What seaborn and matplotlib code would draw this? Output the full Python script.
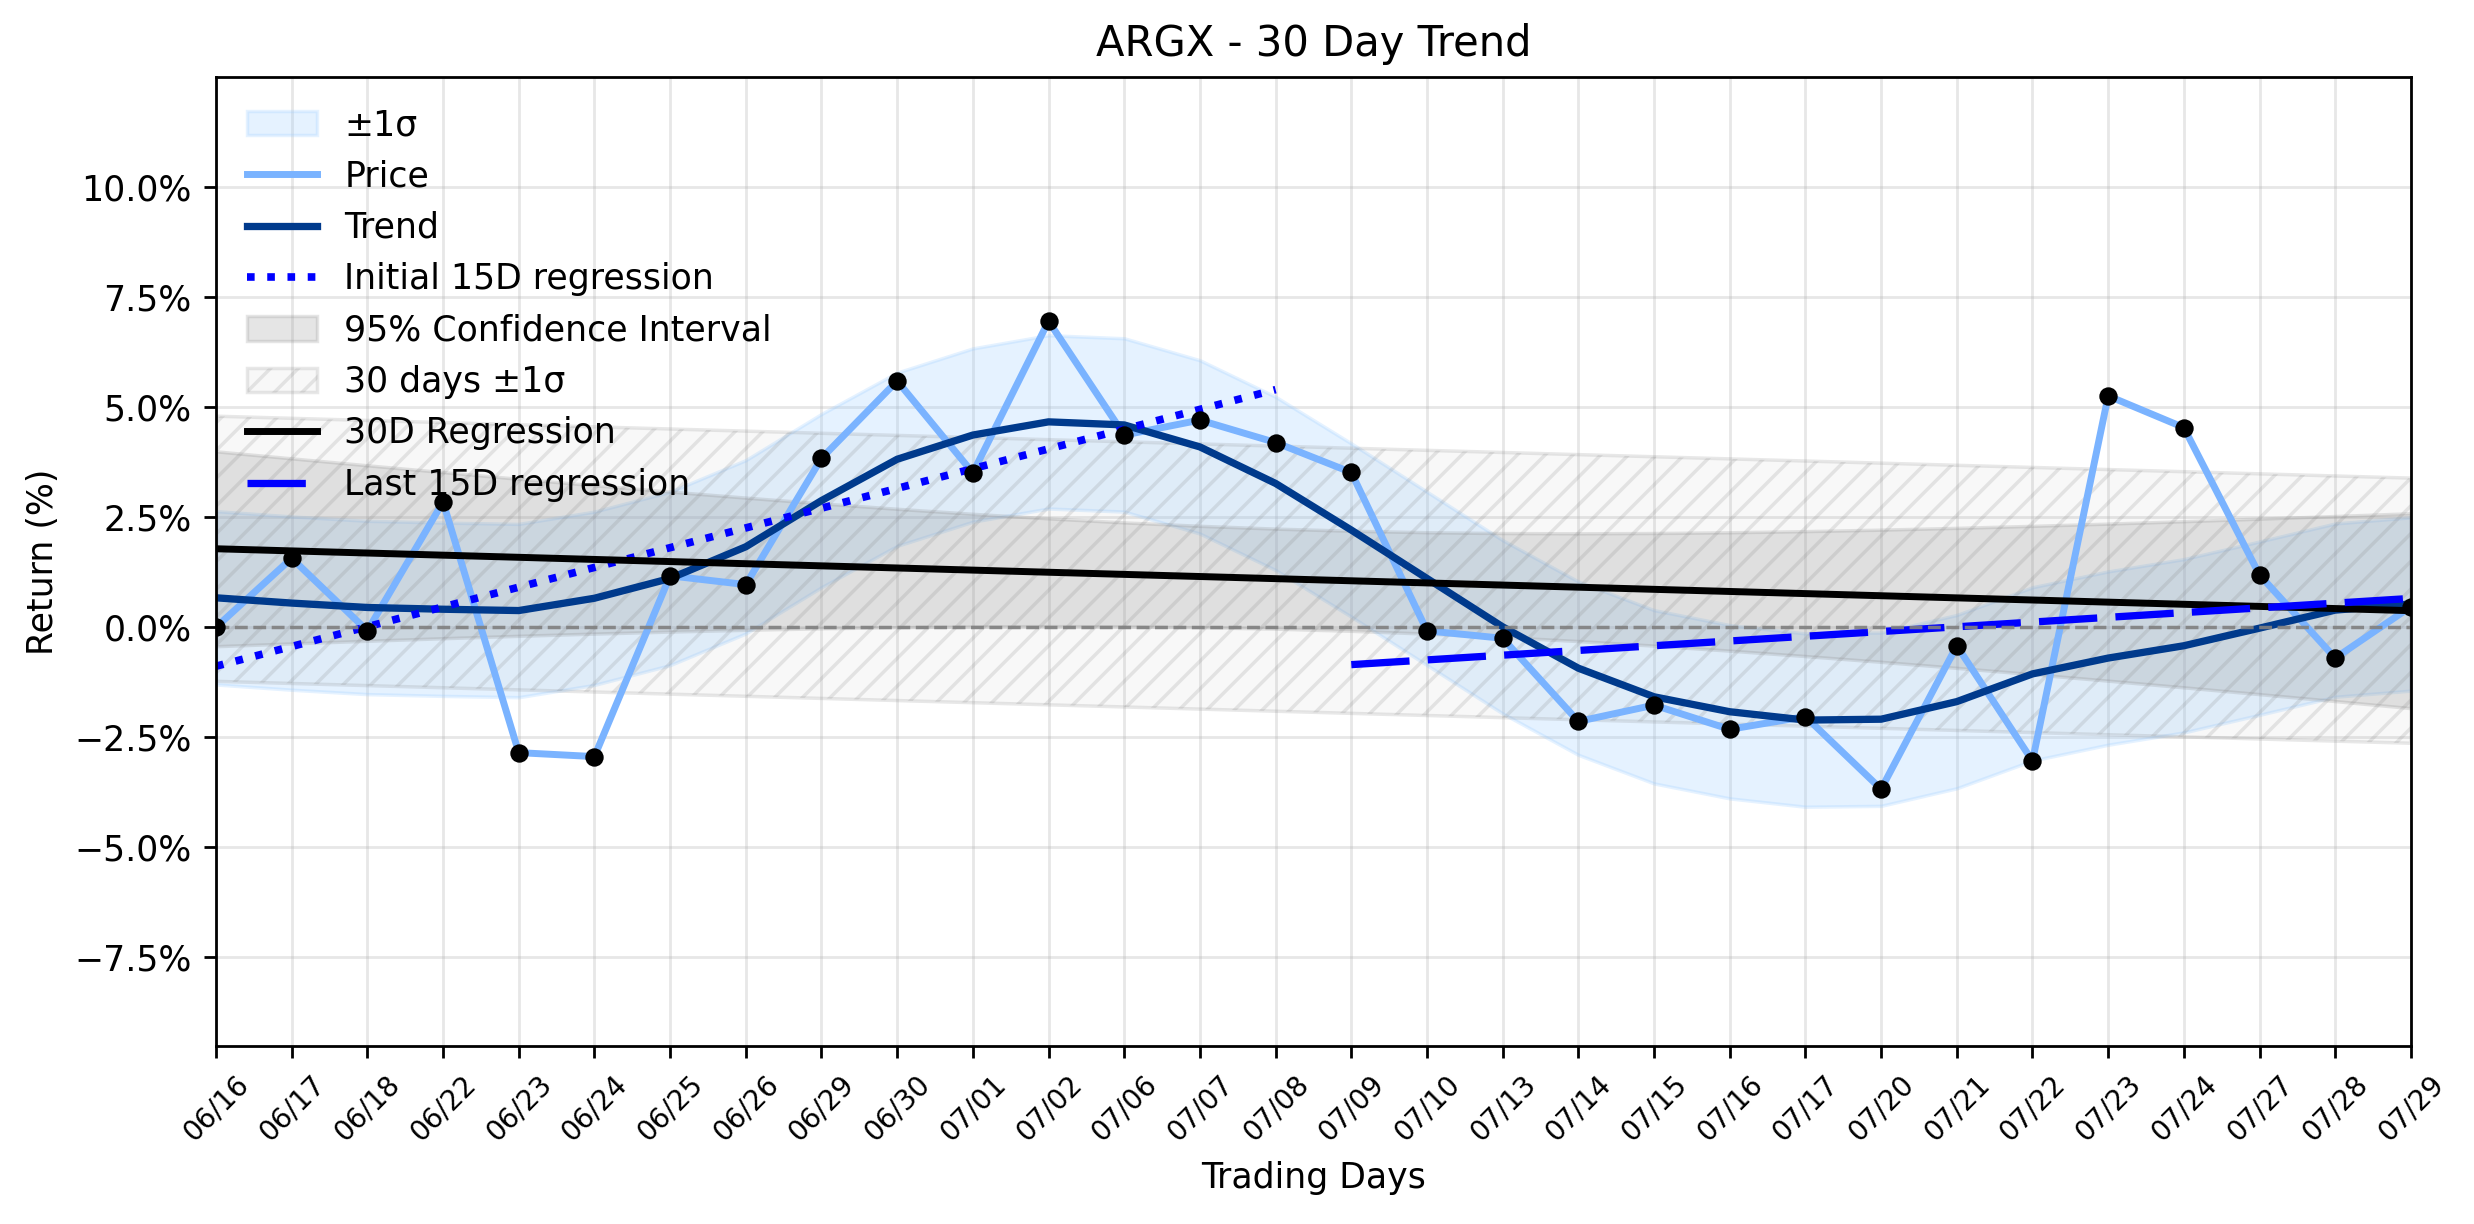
import numpy as np
import pandas as pd
import matplotlib
matplotlib.use("Agg")
import matplotlib.pyplot as plt
import seaborn as sns
from matplotlib.patches import Patch
from matplotlib.lines import Line2D
from matplotlib.ticker import PercentFormatter

# ---------------- data ----------------
dates = ["06/16", "06/17", "06/18", "06/22", "06/23", "06/24", "06/25", "06/26",
         "06/29", "06/30", "07/01", "07/02", "07/06", "07/07", "07/08", "07/09",
         "07/10", "07/13", "07/14", "07/15", "07/16", "07/17", "07/20", "07/21",
         "07/22", "07/23", "07/24", "07/27", "07/28", "07/29"]

price_ret = [0.00, 1.57, -0.08, 2.85, -2.85, -2.94, 1.17, 0.97, 3.84, 5.60,
             3.51, 6.96, 4.37, 4.71, 4.20, 3.52, -0.08, -0.25, -2.14, -1.77,
             -2.32, -2.03, -3.68, -0.42, -3.04, 5.26, 4.54, 1.19, -0.70, 0.47]

trend_ret = [0.67, 0.55, 0.45, 0.41, 0.38, 0.66, 1.11, 1.83, 2.88, 3.82,
             4.37, 4.67, 4.60, 4.10, 3.27, 2.21, 1.11, 0.01, -0.93, -1.58,
             -1.92, -2.11, -2.09, -1.69, -1.06, -0.70, -0.42, -0.02, 0.39, 0.53]

trend_sigma = 1.97      # half-width of the light-blue ±1σ band
t_crit = 2.048          # 95% t value, 28 dof
split = 15              # first / last 15 days

# ---------------- figure ----------------
DPI = 250
plt.rcParams['font.family'] = ['DejaVu Sans']
fig = plt.figure(figsize=(2474 / DPI, 1224 / DPI), dpi=DPI)
ax = fig.add_axes([0.0873, 0.1454, 0.9745 - 0.0873, 0.9371 - 0.1454])

x = np.arange(len(dates))
p = np.array(price_ret)
tr = np.array(trend_ret)
df = pd.DataFrame({"day": x, "price": p, "trend": tr})

# ±1σ band around the trend
ax.fill_between(x, tr - trend_sigma, tr + trend_sigma, color="#99ccff",
                alpha=0.25, lw=1)

sns.lineplot(data=df, x="day", y="price", color="#7ab3ff", lw=2, ax=ax)
sns.lineplot(data=df, x="day", y="trend", color="#003a8c", lw=2.1, ax=ax)

# initial 15-day regression
c1 = np.polyfit(x[:split], p[:split], 1)
ax.plot(x[:split], np.polyval(c1, x[:split]), ls=":", color="blue", lw=2.2)

# 30-day regression + 95% CI + ±1σ
c30 = np.polyfit(x, p, 1)
fit30 = np.polyval(c30, x)
resid = p - fit30
s_res = np.sqrt(np.sum(resid ** 2) / (len(x) - 2))
sxx = np.sum((x - x.mean()) ** 2)
ci = t_crit * s_res * np.sqrt(1 / len(x) + (x - x.mean()) ** 2 / sxx)
ax.fill_between(x, fit30 - ci, fit30 + ci, color="gray", alpha=0.2, lw=1)
sd = np.std(p, ddof=1)
ax.fill_between(x, fit30 - sd, fit30 + sd, facecolor=(0.5, 0.5, 0.5, 0.05),
                edgecolor=(0.5, 0.5, 0.5, 0.18), hatch="///", lw=1)
ax.plot(x, fit30, color="black", lw=2)

# last 15-day regression
c2 = np.polyfit(x[split:], p[split:], 1)
ax.plot(x[split:], np.polyval(c2, x[split:]), ls=(0, (8, 2.5)), color="blue", lw=2.1)

ax.axhline(0, color="gray", ls="--", lw=1, alpha=0.9)

sns.scatterplot(data=df, x="day", y="price", color="black", s=28,
                linewidth=0, zorder=5, ax=ax)

# axes cosmetics
ax.set_xlim(0, len(dates) - 1)
ax.set_ylim(-9.52, 12.51)
ax.set_xticks(x)
ax.set_xticklabels(dates, rotation=45, fontsize=8)
ax.set_yticks(np.arange(-7.5, 10.1, 2.5))
ax.yaxis.set_major_formatter(PercentFormatter(xmax=100, decimals=1))
ax.grid(True, alpha=0.3)
ax.set_axisbelow(True)
ax.set_title("ARGX - 30 Day Trend", fontsize=12)
ax.set_xlabel("Trading Days")
ax.set_ylabel("Return (%)")

handles = [
    Patch(facecolor="#99ccff", edgecolor="#99ccff", alpha=0.25, label="±1σ"),
    Line2D([], [], color="#7ab3ff", lw=2, label="Price"),
    Line2D([], [], color="#003a8c", lw=2.1, label="Trend"),
    Line2D([], [], color="blue", ls=":", lw=2.2, label="Initial 15D regression"),
    Patch(facecolor="gray", edgecolor="gray", alpha=0.2, label="95% Confidence Interval"),
    Patch(facecolor=(0.5, 0.5, 0.5, 0.05), edgecolor=(0.5, 0.5, 0.5, 0.18),
          hatch="///", label="30 days ±1σ"),
    Line2D([], [], color="black", lw=2, label="30D Regression"),
    Line2D([], [], color="blue", ls=(0, (8, 2.5)), lw=2.1, label="Last 15D regression"),
]
ax.legend(handles=handles, loc="upper left", frameon=False)

fig.savefig("out.png", dpi=DPI)
